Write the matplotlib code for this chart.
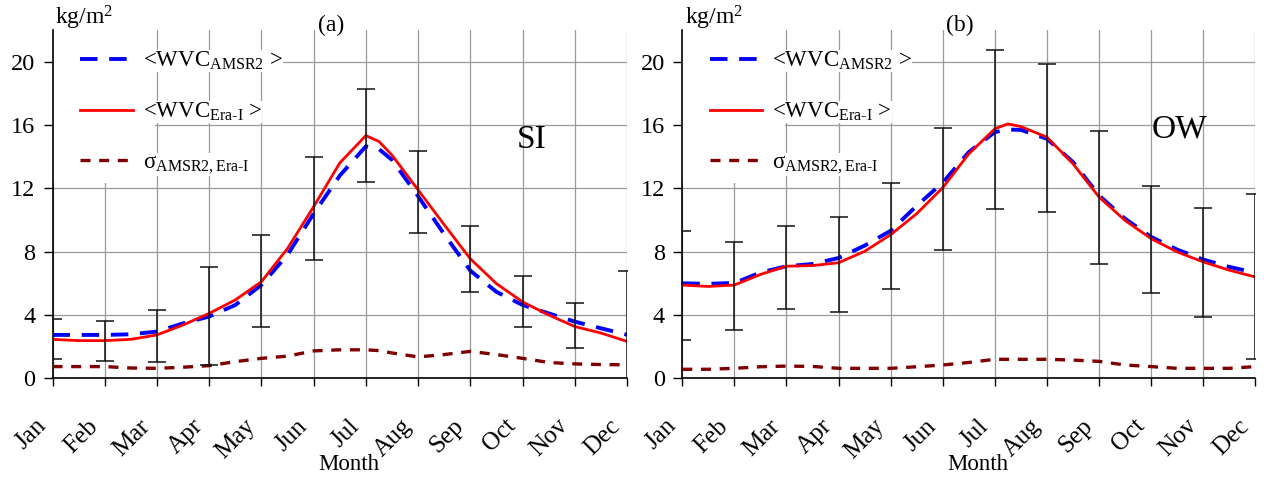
import numpy as np
import matplotlib
matplotlib.use("Agg")
import matplotlib.pyplot as plt
import matplotlib.transforms as mtransforms
from matplotlib.patches import Rectangle

plt.rcParams['font.family'] = ['Liberation Serif', 'DejaVu Serif']
plt.rcParams['mathtext.fontset'] = 'custom'
plt.rcParams['mathtext.rm'] = 'Liberation Serif'
plt.rcParams['mathtext.it'] = 'Liberation Serif:italic'

# ---------------- data ----------------
months = ['Jan', 'Feb', 'Mar', 'Apr', 'May', 'Jun', 'Jul', 'Aug', 'Sep', 'Oct', 'Nov', 'Dec']
# sample positions (in months from Jan) at which curves were read
t = [0, 0.5, 1, 1.5, 2, 2.5, 3, 3.5, 4, 4.5, 5, 5.5, 6, 6.25, 6.5, 7, 7.5, 8, 8.5, 9, 9.5, 10, 10.5, 11]

# panel (a) SI
si_amsr2 = [2.74, 2.74, 2.74, 2.78, 2.95, 3.47, 3.9, 4.63, 5.9, 7.8, 10.4, 12.8, 14.65, 14.48, 13.8,
            11.5, 9.1, 6.8, 5.46, 4.63, 4.1, 3.58, 3.16, 2.75]
si_era = [2.46, 2.38, 2.38, 2.46, 2.74, 3.37, 4.1, 4.95, 6.1, 8.2, 10.84, 13.6, 15.33, 14.96, 14.1,
          11.9, 9.7, 7.55, 5.98, 4.83, 4.0, 3.27, 2.86, 2.33]
si_sigma = [0.74, 0.74, 0.74, 0.65, 0.63, 0.7, 0.8, 1.05, 1.26, 1.4, 1.73, 1.8, 1.8, 1.75, 1.6,
            1.35, 1.5, 1.7, 1.5, 1.26, 1.0, 0.91, 0.87, 0.85]
si_err_low = [1.2, 1.12, 1.01, 0.84, 3.22, 7.5, 12.39, 9.17, 5.42, 3.23, 1.94, -2.09]
si_err_high = [3.73, 3.64, 4.3, 7.0, 9.05, 14.0, 18.25, 14.33, 9.6, 6.49, 4.78, 6.75]

# panel (b) OW
ow_amsr2 = [6.0, 5.97, 6.02, 6.68, 7.08, 7.22, 7.6, 8.38, 9.32, 10.9, 12.36, 14.29, 15.55, 15.71, 15.69,
            15.13, 13.66, 11.55, 10.08, 8.93, 8.13, 7.5, 7.04, 6.66]
ow_era = [5.89, 5.8, 5.89, 6.56, 7.08, 7.12, 7.3, 8.02, 9.07, 10.4, 12.04, 14.18, 15.76, 16.07, 15.9,
          15.23, 13.55, 11.45, 9.97, 8.82, 7.98, 7.35, 6.83, 6.4]
ow_sigma = [0.57, 0.57, 0.63, 0.73, 0.77, 0.75, 0.63, 0.63, 0.63, 0.73, 0.84, 1.0, 1.2, 1.2, 1.2,
            1.2, 1.15, 1.07, 0.84, 0.74, 0.63, 0.63, 0.63, 0.74]
ow_err_low = [2.41, 3.04, 4.36, 4.19, 5.65, 8.1, 10.67, 10.5, 7.25, 5.36, 3.89, 1.2]
ow_err_high = [9.28, 8.6, 9.65, 10.2, 12.36, 15.8, 20.76, 19.85, 15.6, 12.16, 10.76, 11.62]

panels = [
    dict(tag='(a)', region='SI', amsr2=si_amsr2, era=si_era, sigma=si_sigma,
         lo=si_err_low, hi=si_err_high, region_xy=(9.17, 15.05)),
    dict(tag='(b)', region='OW', amsr2=ow_amsr2, era=ow_era, sigma=ow_sigma,
         lo=ow_err_low, hi=ow_err_high, region_xy=(9.55, 15.7)),
]

lbl_amsr2 = r'<WVC$_{\mathregular{AMSR2}}$ >'
lbl_era = r'<WVC$_{\mathregular{Era\text{-}I}}$ >'
lbl_sigma = r'σ$_{\mathregular{AMSR2,Era\text{-}I}}$'

# ---------------- figure ----------------
W, H = 1272, 479
fig = plt.figure(figsize=(W / 100, H / 100), dpi=100)
axes_px = [(52.5, 627.0), (682.3, 1255.3)]
y0_px, ytop_px = 378.3, 30.0

for (xl, xr), p in zip(axes_px, panels):
    wpx = xr - xl
    hpx = y0_px - ytop_px
    ax = fig.add_axes([xl / W, (H - y0_px) / H, wpx / W, hpx / H])
    x_m = np.arange(len(months))

    ax.grid(True, color='#9a9a9a', lw=0.9, zorder=0)
    ax.set_axisbelow(True)

    # white area behind the legend handles (hides grid there)
    ax.add_patch(Rectangle((0, 1 - (183 - ytop_px) / hpx), (155 - 52.5) / wpx,
                           (183 - ytop_px) / hpx, transform=ax.transAxes,
                           facecolor='white', edgecolor='none', zorder=1))

    ax.plot(t, p['amsr2'], color='#0000ff', lw=2.8, dashes=(4.5, 3.0), label=lbl_amsr2, zorder=3)
    ax.plot(t, p['era'], color='#ff0000', lw=2.0, label=lbl_era, zorder=3)
    ax.plot(t, p['sigma'], color='#800000', lw=2.4, dashes=(3.0, 2.6), label=lbl_sigma, zorder=3)

    lo = np.array(p['lo']); hi = np.array(p['hi'])
    ax.errorbar(x_m, (lo + hi) / 2, yerr=(hi - lo) / 2, fmt='none', ecolor='#111111',
                elinewidth=1.1, capsize=6.5, capthick=1.1, zorder=4)

    ax.set_xlim(0, 11)
    ax.set_ylim(0, 22)
    ax.set_yticks([0, 4, 8, 12, 16, 20])
    ax.set_xticks(x_m)
    ax.set_xticklabels(months, rotation=45, ha='right', va='center', rotation_mode='anchor',
                       fontsize=18)
    ax.tick_params(axis='x', direction='out', length=6, width=1.0, pad=26)
    ax.tick_params(axis='y', direction='out', length=6.5, width=1.0, labelsize=17.5, pad=6)
    off = mtransforms.ScaledTranslation(-10 / 100, 0, fig.dpi_scale_trans)
    for lab in ax.get_xticklabels():
        lab.set_transform(lab.get_transform() + off)

    for s in ('top', 'right'):
        ax.spines[s].set_visible(False)
    for s in ('left', 'bottom'):
        ax.spines[s].set_linewidth(1.2)

    ax.set_xlabel('Month', fontsize=16.5)
    ax.xaxis.set_label_coords(0.515, -0.218)

    ax.text(0.485, 1.014, p['tag'], transform=ax.transAxes, ha='center', va='center', fontsize=17)
    ax.text(0.004, 1.035, r'kg/m$^{\mathregular{2}}$', transform=ax.transAxes, ha='left',
            va='center', fontsize=17)
    ax.text(p['region_xy'][0], p['region_xy'][1], p['region'], ha='center', va='center', fontsize=24)

    leg = ax.legend(loc='upper left', bbox_to_anchor=(0.0357, 0.962), fontsize=16.5, frameon=False,
                    borderpad=0.3, handlelength=2.3, handletextpad=0.44, labelspacing=1.25,
                    borderaxespad=0)
    leg.set_zorder(5)
    for txt in leg.get_texts():
        txt.set_bbox(dict(facecolor='white', edgecolor='none', pad=0))

fig.savefig('out.png', dpi=100)
